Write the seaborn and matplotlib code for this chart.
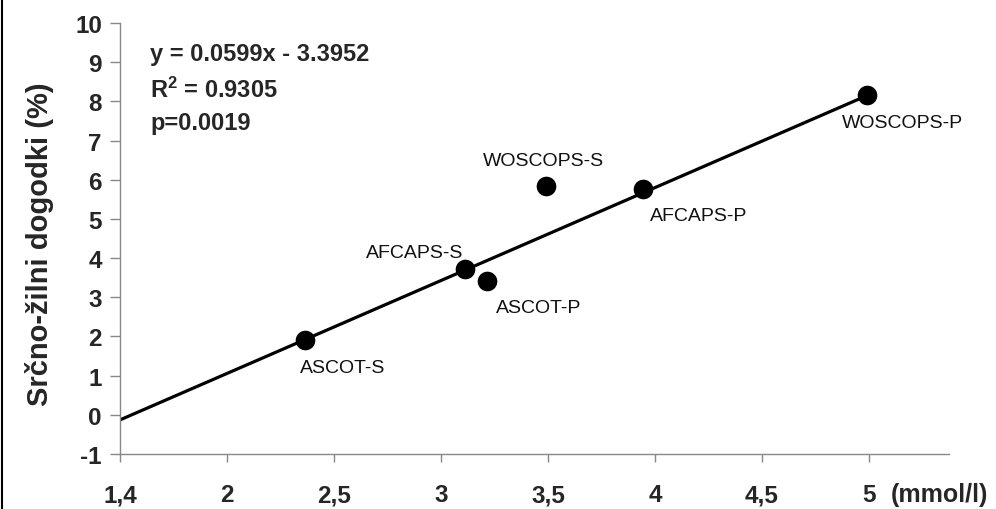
import matplotlib
matplotlib.use("Agg")
import matplotlib.pyplot as plt
import seaborn as sns
import pandas as pd
from matplotlib.lines import Line2D

# ---- data ----
studies = ["ASCOT-S", "AFCAPS-S", "ASCOT-P", "WOSCOPS-S", "AFCAPS-P", "WOSCOPS-P"]
ldl = [2.365, 3.11, 3.215, 3.49, 3.945, 4.99]
events = [1.92, 3.72, 3.42, 5.84, 5.77, 8.16]
line_x = [1.5, 5.0]
line_y = [-0.13, 8.17]
xtick_vals = [1.5, 2, 2.5, 3, 3.5, 4, 4.5, 5]
xtick_labels = ["1,4", "2", "2,5", "3", "3,5", "4", "4,5", "5"]
ytick_vals = list(range(-1, 11))
stats_lines = ["y = 0.0599x - 3.3952", "R$^2$ = 0.9305", "p=0.0019"]

df = pd.DataFrame({"study": studies, "ldl": ldl, "events": events})
line_df = pd.DataFrame({"x": line_x, "y": line_y})

sns.set_theme(style="white")
plt.rcParams["font.family"] = ["Liberation Sans", "DejaVu Sans"]
plt.rcParams["mathtext.fontset"] = "custom"
plt.rcParams["mathtext.rm"] = "Liberation Sans:bold"
plt.rcParams["mathtext.it"] = "Liberation Sans:bold"
plt.rcParams["mathtext.bf"] = "Liberation Sans:bold"

fig = plt.figure(figsize=(9.96, 5.10), dpi=100)
ax = fig.add_axes([120 / 996, 1 - 455 / 510, (949 - 120) / 996, (455 - 24) / 510])

sns.lineplot(data=line_df, x="x", y="y", ax=ax, color="black", linewidth=2.3, zorder=2)
sns.scatterplot(data=df, x="ldl", y="events", ax=ax, color="black", s=200,
                edgecolor="black", linewidth=0, zorder=3)

# label offsets in points
offsets = {
    "ASCOT-S": (27, -20),
    "AFCAPS-S": (-36, 12),
    "ASCOT-P": (37, -19),
    "WOSCOPS-S": (-2, 18),
    "AFCAPS-P": (40, -19),
    "WOSCOPS-P": (26, -20),
}
for s, x, y in zip(studies, ldl, events):
    ax.annotate(s, (x, y), xytext=offsets[s], textcoords="offset points",
                ha="center", va="center", fontsize=14, color="#111111")

ax.set_xlim(1.5, 5.374)
ax.set_ylim(-1, 10)
ax.tick_params(axis="both", direction="out", width=1.0, color="#888888",
               bottom=True, left=True)
ax.tick_params(axis="x", pad=15, length=6)
ax.tick_params(axis="y", pad=6, length=7)
ax.set_xticks(xtick_vals)
ax.set_xticklabels(xtick_labels, fontsize=17.5, fontweight="bold")
ax.set_yticks(ytick_vals)
ax.set_yticklabels([str(v) for v in ytick_vals], fontsize=17.5, fontweight="bold")

for side in ["top", "right"]:
    ax.spines[side].set_visible(False)
for side in ["left", "bottom"]:
    ax.spines[side].set_color("#888888")
    ax.spines[side].set_linewidth(1.0)

ax.set_xlabel("")
ax.set_ylabel("")
fig.text(40 / 996, 1 - 244 / 510, "Srčno-žilni dogodki (%)", fontsize=21,
         fontweight="bold", rotation=90, ha="center", va="center")

for t, base in zip(stats_lines, [61, 98, 130]):
    fig.text(150 / 996, 1 - base / 510, t, fontsize=17, fontweight="bold",
             ha="left", va="baseline")

fig.text(891 / 996, 1 - 495 / 510, "(mmol/l)", fontsize=18, fontweight="bold",
         ha="left", va="center")

fig.add_artist(Line2D([2 / 996, 2 / 996], [0, 1], transform=fig.transFigure,
                      color="black", linewidth=1.5))

fig.savefig("out.png", dpi=100, facecolor="white")
